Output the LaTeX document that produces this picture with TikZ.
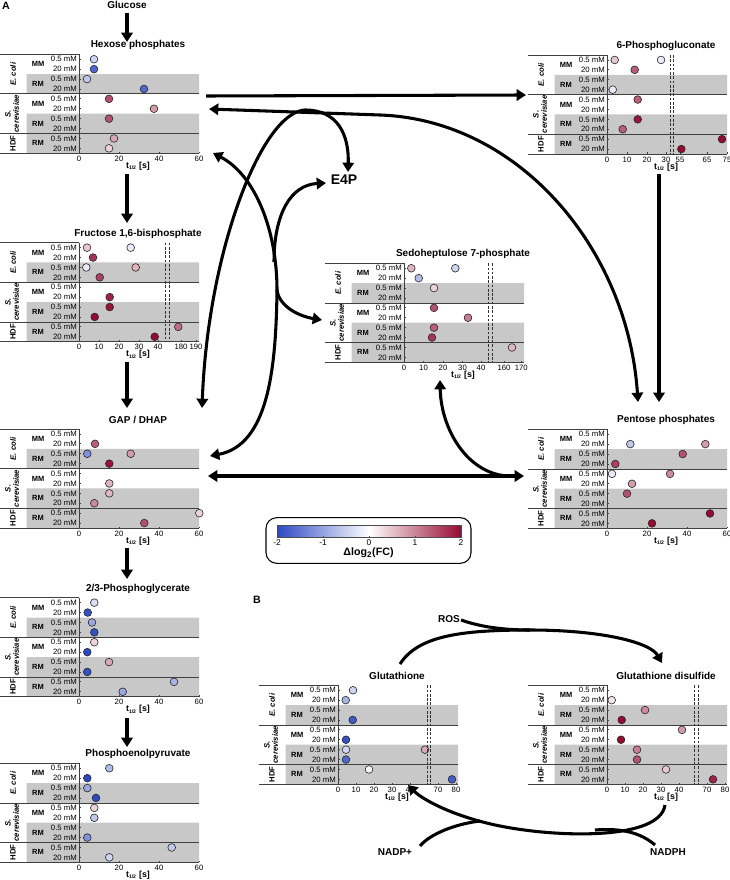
\documentclass[tikz,border=0pt]{standalone}
\usepackage{fontspec}
\setmainfont{Liberation Sans}
\usetikzlibrary{arrows.meta}
\definecolor{cmB}{RGB}{45,72,195}
\definecolor{cmR}{RGB}{150,10,50}
\definecolor{bandgray}{RGB}{200,200,200}
\tikzset{
	arr/.style={line width=2.3pt,-{Triangle[width=8.5pt,length=7pt]}},
	arrboth/.style={line width=2.3pt,{Triangle[width=8.5pt,length=7pt]}-{Triangle[width=8.5pt,length=7pt]}},
	arrline/.style={line width=2.3pt},
	rline/.style={draw=black!75,line width=0.6pt},
	breakline/.style={draw=black!80,line width=0.5pt,dash pattern=on 2pt off 1.2pt},
	ttl/.style={font=\fontsize{7.5}{9}\selectfont\bfseries,inner sep=0pt},
	big/.style={font=\fontsize{10.5}{12}\selectfont\bfseries,inner sep=0pt},
	clab/.style={font=\fontsize{5.8}{6.5}\selectfont,inner sep=0pt},
	grp/.style={font=\fontsize{5.6}{6.5}\selectfont\bfseries,inner sep=0pt},
	spec/.style={font=\fontsize{5.8}{6.2}\selectfont\bfseries,inner sep=0pt,rotate=90,align=center},
	tlab/.style={font=\fontsize{6.6}{7}\selectfont\bfseries,inner sep=0pt},
	dotc/.style={draw=black!85,line width=0.45pt},
}
% one dot: offset from the axis, row, log2 fold change
\newcommand\mdot[3]{%
	\pgfmathtruncatemacro\pc{min(100,abs(#3)*60)}%
	\ifdim #3 pt<0pt\def\cc{cmB}\else\def\cc{cmR}\fi
	\filldraw[dotc,fill=\cc!\pc!white] (79+#1,{(#2-0.5)*9.9}) circle (2.9pt);}
% panel: x0, y0, name, title, dots, axis ticks
\newcommand\panel[6]{%
	\begin{scope}[shift={(#1,#2)}]
		\fill[bandgray] (26.7,19.8) rectangle (199,39.6) (26.7,59.4) rectangle (199,99);
		\draw[rline] (0,0) -- (79,0) (79,0) -- (79,99)
			(0,39.6) -- (199,39.6) (0,79.2) -- (199,79.2) (0,99) -- (199,99);
		\foreach \r in {0,2,4,6,8} {
			\node[clab,anchor=east] at (77,{(\r+0.5)*9.9}) {0.5 mM};
			\node[clab,anchor=east] at (77,{(\r+1.5)*9.9}) {20 mM};
			\draw[rline] (79,{(\r+0.5)*9.9}) -- ++(1.5,0) (79,{(\r+1.5)*9.9}) -- ++(1.5,0);
		}
		\foreach \y/\g in {9.9/MM,29.7/RM,49.5/MM,69.3/RM,89.1/RM}
			\node[grp] at (38,\y) {\g};
		\node[spec] at (13,19.8) {\textit{E. coli}};
		\node[spec] at (12,59.4) {\textit{S.}\\\textit{cerevisiae}};
		\node[spec] at (13,89.1) {HDF};
		\foreach \o/\l in {#6} {
			\draw[rline] (79+\o,99) -- ++(0,-1.5);
			\node[clab] at (79+\o,104.5) {\l};
		}
		\node[tlab] at (138,112) {t\textsubscript{\fontsize{3.8}{4}\selectfont 1/2} [s]};
		\node[ttl] (#3) at (138,-9) {#4};
		\foreach \o/\r/\v in {#5} {\mdot{\o}{\r}{\v}}
	\end{scope}}
\newcommand\axbreak[3]{\draw[breakline] (#1+79+#3,#2) -- ++(0,99);}

\begin{document}
\begin{tikzpicture}[x=0.75pt,y=-0.75pt]
	\useasboundingbox (0,0) rectangle (730,880);
	\node[ttl,font=\fontsize{8}{9}\selectfont\bfseries] (lA) at (6,6) {A};
	\node[ttl,font=\fontsize{8}{9}\selectfont\bfseries] (lB) at (257,600) {B};
	%
	\panel{0}{54.3}{hex}{Hexose phosphates}{15/1/-0.4,15/2/-1.4,8/3/-0.5,65/4/-1.4,30/5/1.2,75/6/0.7,30/7/1.2,35/9/0.6,30/10/0.3}{0/0,40/20,80/40,120/60}
	\panel{528}{55}{pgl}{6-Phosphogluconate}{7.7/1/0.4,54/1/-0.2,27.7/2/1.1,5.7/4/-0.2,30.7/5/1.1,30.7/7/1.6,15.7/8/1.1,115/9/1.8,74.3/10/1.9}{0/0,20/10,40/20,59/30,73/55,100/65,120/75}
	\axbreak{528}{55}{63} \axbreak{528}{55}{66.7}
	\panel{0}{242.7}{fbp}{Fructose 1,6-bisphosphate}{8/1/0.4,51.7/1/-0.2,14/2/1.4,7.3/3/-0.2,56.7/3/0.5,20.7/4/1.3,30.7/6/1.5,30.7/7/1.6,15.7/8/1.7,99.3/9/1.0,75.7/10/1.9}{0/0,20/10,40/20,60/30,79/40,102/180,117/190}
	\axbreak{0}{242.7}{86.7} \axbreak{0}{242.7}{90}
	\panel{325}{263.3}{sedo}{Sedoheptulose 7-phosphate}{7.3/1/0.5,51.3/1/-0.4,14.7/2/-0.6,30/3/0.3,30/5/1.2,64/6/0.9,30/7/1.1,28/8/1.4,108/9/0.5}{0/0,19.5/10,39/20,58.5/30,77/40,100/160,117.3/170}
	\axbreak{325}{263.3}{84.7} \axbreak{325}{263.3}{88}
	\panel{0}{429}{gap}{GAP / DHAP}{16/2/1.1,8.3/3/-1.0,51.7/3/0.7,30.3/4/1.6,30.3/6/0.5,30.3/7/0.5,15.3/8/0.8,120.3/9/0.3,65.3/10/1.2}{0/0,40/20,80/40,120/60}
	\panel{528}{429.3}{pen}{Pentose phosphates}{23.3/2/-0.5,98.3/2/0.7,75.7/3/1.2,8.3/4/1.3,5/5/-0.2,63/5/0.8,25/6/0.7,20/7/1.2,103/9/1.8,45/10/1.7}{0/0,40/20,80/40,120/60}
	\panel{0}{597.7}{pga}{2/3-Phosphoglycerate}{15.3/1/-0.3,8.7/2/-1.6,13/3/-0.8,15.3/4/-1.6,15.3/5/0.3,8.3/6/-1.7,30/7/0.6,8.3/8/-1.6,95/9/-0.7,43.7/10/-0.8}{0/0,40/20,80/40,120/60}
	\panel{0}{763.3}{pep}{Phosphoenolpyruvate}{30.3/1/-0.6,8.3/2/-1.7,8.3/3/-0.8,17/4/-1.8,15.3/5/0.3,15.3/6/-0.5,8.3/8/-1.0,92.7/9/-0.5,30.3/10/-0.4}{0/0,40/20,80/40,120/60}
	\panel{259}{685.3}{gsh}{Glutathione}{15/1/-0.4,7.7/2/-0.7,14.7/4/-1.5,8/6/-1.6,8/7/-0.4,87/7/0.6,8/8/-1.4,31/9/-0.1,114/10/-1.5}{0/0,18/10,36/20,54/30,72/40,100/70,118/80}
	\axbreak{259}{685.3}{89.4} \axbreak{259}{685.3}{92.5}
	\panel{528}{685.3}{gssg}{Glutathione disulfide}{4.7/2/0.2,38/3/0.8,14.7/4/1.8,75/5/0.7,14/6/1.7,30/7/0.9,30/8/1.2,59/9/0.4,106/10/1.5}{0/0,18/10,36/20,54/30,72/40,100/70,118/80}
	\axbreak{528}{685.3}{87.3} \axbreak{528}{685.3}{91.3}
	%
	% colour scale
	\draw[black,line width=0.8pt,rounded corners=8pt] (266,517.7) rectangle (471,563.3);
	\shade[left color=cmB,right color=white] (277,525) rectangle (369,537);
	\shade[left color=white,right color=cmR] (369,525) rectangle (461,537);
	\draw[black!70,line width=0.4pt] (277,525) rectangle (461,537);
	\foreach \x/\l in {277/-2,323/-1,369/0,415/1,461/2} {
		\draw[black!70,line width=0.4pt] (\x,537) -- ++(0,-1.5);
		\node[clab,font=\fontsize{6.3}{7}\selectfont] at (\x,542.5) {\l};
	}
	\node[ttl,font=\fontsize{8}{9}\selectfont\bfseries] (fc) at (368.5,553) {Δlog\textsubscript{2}(FC)};
	%
	% labels
	\node[ttl] (glc) at (127,5) {Glucose};
	\node[big] (e4p) at (344,180) {E4P};
	\node[ttl] (ros) at (449,619) {ROS};
	\node[ttl] (nadp) at (395,852) {NADP+};
	\node[ttl] (nadph) at (668,852) {NADPH};
	%
	% glycolysis
	\coordinate (glcOut) at (127,13);  \coordinate (hexIn) at (127,42);
	\coordinate (hexOut) at (127,174); \coordinate (fbpIn) at (127,223);
	\coordinate (fbpOut) at (127,362); \coordinate (gapIn) at (127,408);
	\coordinate (gapOut) at (127,548); \coordinate (pgaIn) at (127,579);
	\coordinate (pgaOut) at (127,718); \coordinate (pepIn) at (127,747);
	\draw[arr] (glcOut) -- (hexIn);
	\draw[arr] (hexOut) -- (fbpIn);
	\draw[arr] (fbpOut) -- (gapIn);
	\draw[arr] (gapOut) -- (pgaIn);
	\draw[arr] (pgaOut) -- (pepIn);
	%
	% oxidative branch
	\coordinate (hexR) at (206,96);  \coordinate (pglIn) at (526,95);
	\coordinate (pglOut) at (659,174); \coordinate (penIn) at (659,402);
	\draw[arr] (hexR) -- (pglIn);
	\draw[arr] (pglOut) -- (penIn);
	%
	% transketolase (F6P + GAP <-> E4P + X5P)
	\coordinate (hexR2) at (209,109); \coordinate (tk) at (380,115);
	\coordinate (penIn2) at (638,402); \coordinate (tkJ) at (305,110);
	\coordinate (e4pIn) at (348,172); \coordinate (gapIn2) at (202,408);
	\draw[arrboth] (hexR2) -- (tk) .. controls (520,120) and (628,250) .. (penIn2);
	\draw[arr] (tkJ) .. controls (338,110) and (349,135) .. (e4pIn);
	\draw[arr] (tkJ) .. controls (262,112) and (208,250) .. (gapIn2);
	%
	% transaldolase
	\coordinate (taHex) at (213,153); \coordinate (taE4P) at (326,183);
	\coordinate (taJ) at (277,290);   \coordinate (taM) at (274,262);
	\coordinate (s7pIn) at (322,320); \coordinate (gapIn3) at (210,456);
	\draw[arr] (taJ) .. controls (277,230) and (255,175) .. (taHex);
	\draw[arr] (taM) .. controls (274,215) and (290,185) .. (taE4P);
	\draw[arr] (taJ) .. controls (279,306) and (298,316) .. (s7pIn);
	\draw[arr] (taJ) .. controls (276,370) and (268,445) .. (gapIn3);
	%
	% transketolase (GAP + S7P <-> pentoses)
	\coordinate (gapR) at (208,476); \coordinate (penL) at (524,476);
	\coordinate (tkJ2) at (508,476); \coordinate (s7pIn2) at (440,380);
	\draw[arrboth] (gapR) -- (penL);
	\draw[arr] (tkJ2) .. controls (468,474) and (441,430) .. (s7pIn2);
	%
	% glutathione cycle
	\coordinate (gshTop) at (400,664); \coordinate (gssgIn) at (662,663);
	\coordinate (rosOut) at (461,620); \coordinate (gsA) at (530,630);
	\coordinate (gssgOut) at (665,805); \coordinate (gshIn) at (408,785);
	\coordinate (nadphOut) at (655,845); \coordinate (nA) at (595,830);
	\coordinate (nB) at (480,821); \coordinate (nadpIn) at (420,846);
	\draw[arr] (gshTop) .. controls (418,636) and (460,630) .. (gsA) .. controls (600,630) and (650,642) .. (gssgIn);
	\draw[arrline] (rosOut) .. controls (478,626) and (500,630) .. (gsA);
	\draw[arr] (gssgOut) .. controls (660,840) and (560,838) .. (500,826) .. controls (455,817) and (423,800) .. (gshIn);
	\draw[arrline] (nadphOut) .. controls (640,832) and (620,828) .. (nA);
	\draw[arrline] (nB) .. controls (455,824) and (430,834) .. (nadpIn);
\end{tikzpicture}
\end{document}
